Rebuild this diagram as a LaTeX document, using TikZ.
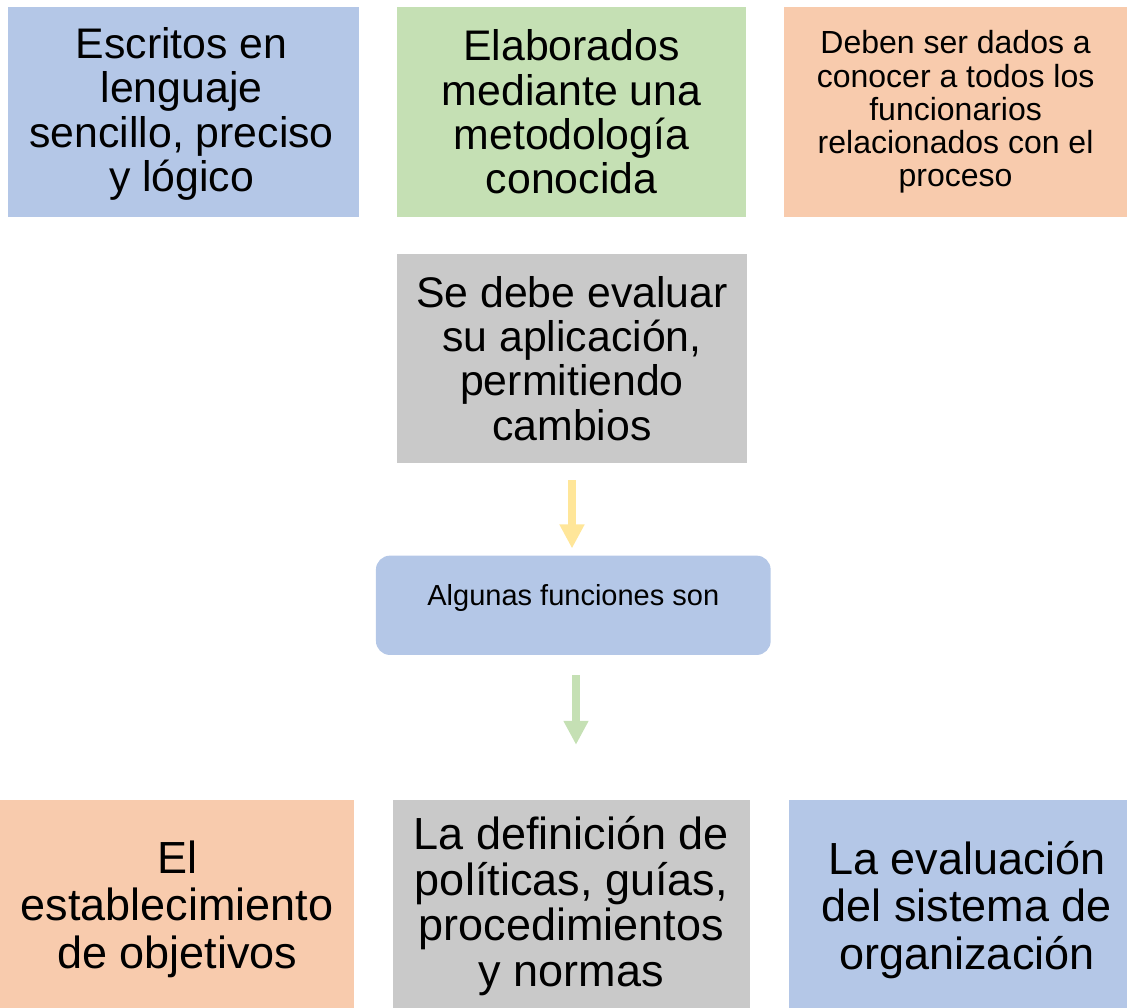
\documentclass[tikz,border=0pt]{standalone}
\usepackage{fontspec}
\setmainfont{Liberation Sans}
\usetikzlibrary{arrows.meta,calc}
\definecolor{cblue}{HTML}{B4C7E7}
\definecolor{cgreen}{HTML}{C5E0B4}
\definecolor{corange}{HTML}{F8CBAD}
\definecolor{cgray}{HTML}{C9C9C9}
\definecolor{cyellow}{HTML}{FFE699}
\begin{document}
\begin{tikzpicture}[x=1pt,y=-1pt,
  box/.style={rectangle, inner sep=0pt, align=center, text=black},
  bigtxt/.style={font=\fontsize{42.8}{44.3}\selectfont},
  bottxt/.style={font=\fontsize{45}{47.5}\selectfont},
  bottxtb/.style={font=\fontsize{45}{45.8}\selectfont},
  midtxt/.style={font=\fontsize{32}{33.2}\selectfont},
  smalltxt/.style={font=\fontsize{29}{30}\selectfont},
  blockarrow/.style={line width=8.6pt, -{Triangle[width=23.5pt,length=24pt]}}
]
\useasboundingbox (0,0) rectangle (1127,1008);
% top row
\node[box, fill=cblue, minimum width=350.7pt, minimum height=209.4pt] (t1) at (183.6,112) {};
\node[box, bigtxt] (t1t) at ($(t1.center)+(-2,2)$) {Escritos en\\lenguaje\\sencillo, preciso\\y lógico};
\node[box, fill=cgreen, minimum width=349.5pt, minimum height=209.4pt, bigtxt] (t2) at (571.5,112) {Elaborados\\mediante una\\metodología\\conocida};
\node[box, fill=corange, minimum width=342.7pt, minimum height=209.4pt, midtxt] (t3) at (955.6,112) {Deben ser dados a\\conocer a todos los\\funcionarios\\relacionados con el\\proceso};
% middle
\node[box, fill=cgray, minimum width=350pt, minimum height=209pt, bigtxt] (gray) at (572,358.5) {Se debe evaluar\\su aplicación,\\permitiendo\\cambios};
\node[box, fill=cblue, rounded corners=14pt, minimum width=394.7pt, minimum height=99.3pt] (alg) at (573.3,605.3) {};
\node[box, smalltxt] (algtext) at ($(alg.center)+(0,-7)$) {Algunas funciones son};
% bottom row
\node[box, fill=corange, minimum width=354.3pt, minimum height=208pt] (b1) at (177.2,904) {};
\node[box, bottxt] (b1t) at ($(b1.center)+(0,5)$) {El\\establecimiento\\de objetivos};
\node[box, fill=cgray, minimum width=357.3pt, minimum height=208pt] (b2) at (571.3,904) {};
\node[box, bottxtb] (b2t) at ($(b2.center)+(0,2)$) {La definición de\\políticas, guías,\\procedimientos\\y normas};
\node[box, fill=cblue, minimum width=338pt, minimum height=208pt] (b3) at (958,904) {};
\node[box, bottxt] (b3t) at ($(b3.center)+(9,6)$) {La evaluación\\del sistema de\\organización};
% arrows
\draw[blockarrow, cyellow] ($(gray.south)+(0,17)$) -- ($(gray.south |- alg.north)+(0,-7)$);
\draw[blockarrow, cgreen] ($(alg.south)+(2.7,20)$) -- ($(alg.south |- b2.north)+(2.7,-55)$);
\end{tikzpicture}
\end{document}
